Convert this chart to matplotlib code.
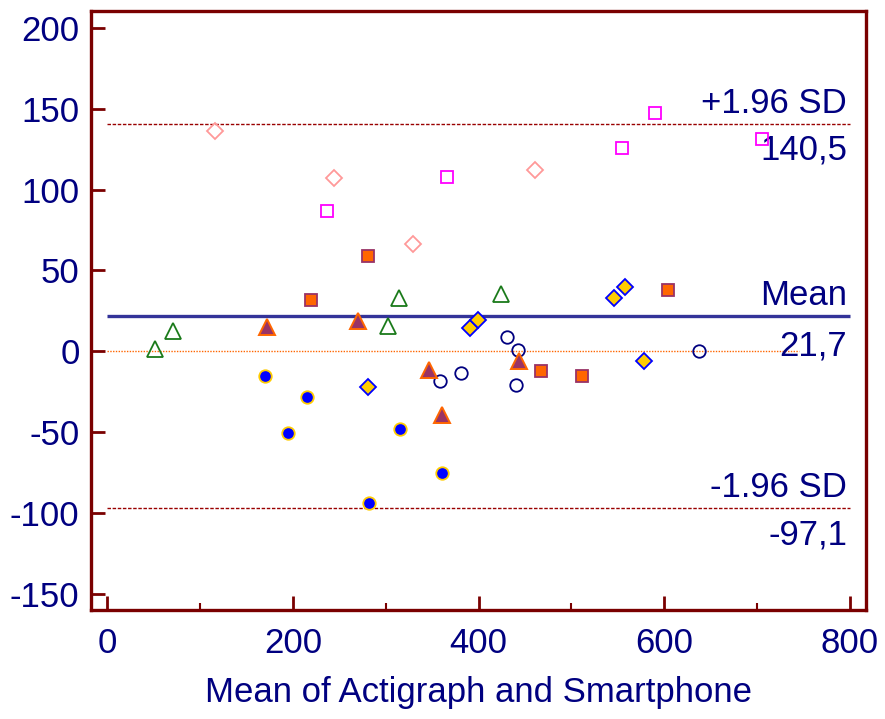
import numpy as np
import matplotlib
matplotlib.use("Agg")
import matplotlib.pyplot as plt
from matplotlib.ticker import MultipleLocator

plt.rcParams["font.family"] = ["Liberation Sans", "DejaVu Sans"]
plt.rcParams["axes.unicode_minus"] = False

# ── data (mean, difference) per group ──
blue_dot_x = [169.6, 214.5, 194.7, 315.0, 360.3, 282.3]
blue_dot_y = [-15.3, -28.5, -50.4, -48.1, -75.1, -93.9]

open_circ_x = [358.8, 381.4, 430.3, 442.2, 440.7, 637.8]
open_circ_y = [-18.4, -13.6, 8.9, 0.6, -20.9, 0.2]

green_tri_x = [51.8, 70.5, 302.1, 314.3, 423.8]
green_tri_y = [1.7, 12.4, 15.7, 33.2, 35.7]

purple_tri_x = [172.1, 270.1, 346.6, 360.3, 443.6]
purple_tri_y = [15.0, 18.8, -11.6, -39.6, -6.0]

yellow_dia_x = [280.9, 390.8, 399.0, 545.6, 557.7, 578.6]
yellow_dia_y = [-22.3, 14.7, 19.4, 33.0, 40.0, -6.0]

orange_sq_x = [219.8, 280.9, 467.3, 511.1, 603.7]
orange_sq_y = [31.6, 58.8, -12.2, -15.3, 37.8]

magenta_sq_x = [237.1, 365.7, 554.8, 590.4, 705.6]
magenta_sq_y = [86.9, 108.0, 125.9, 147.2, 131.3]

pink_dia_x = [115.4, 244.0, 329.7, 460.8]
pink_dia_y = [136.1, 107.1, 66.5, 111.9]

MEAN_DIFF = 21.7
UPPER_LOA = 140.5
LOWER_LOA = -97.1

NAVY = "#000080"
DARKRED = "#7a0000"

fig = plt.figure(figsize=(8.85, 7.19), dpi=100)
ax = fig.add_axes([0.1025, 0.1516, 0.8757, 0.8331])

# reference lines
ax.hlines(0, 0, 745, color="#ff6600", linewidth=1, linestyle=(0, (1, 1)), zorder=1)
ax.hlines(MEAN_DIFF, 0, 800, color="#333399", linewidth=2.4, zorder=2)
ax.hlines([UPPER_LOA, LOWER_LOA], 0, 800, color="#990000", linewidth=1,
          linestyle=(0, (2.5, 1.2)), zorder=1)

# points
kw = dict(linestyle="none", zorder=4)
ax.plot(blue_dot_x, blue_dot_y, marker="o", ms=9, mfc="#0000ff", mec="#ffcc00", mew=1.3, **kw)
ax.plot(open_circ_x, open_circ_y, marker="o", ms=9, mfc="none", mec=NAVY, mew=1.3, **kw)
ax.plot(green_tri_x, green_tri_y, marker="^", ms=12, mfc="none", mec="#1a7a1a", mew=1.3, **kw)
ax.plot(purple_tri_x, purple_tri_y, marker="^", ms=12, mfc="#993366", mec="#ff6600", mew=1.4, **kw)
ax.plot(yellow_dia_x, yellow_dia_y, marker="D", ms=8.5, mfc="#ffcc00", mec="#0000ff", mew=1.3, **kw)
ax.plot(orange_sq_x, orange_sq_y, marker="s", ms=9, mfc="#ff6600", mec="#993366", mew=1.3, **kw)
ax.plot(magenta_sq_x, magenta_sq_y, marker="s", ms=9, mfc="none", mec="#ff00ff", mew=1.3, **kw)
ax.plot(pink_dia_x, pink_dia_y, marker="D", ms=8.5, mfc="none", mec="#ff9999", mew=1.3, **kw)

# line labels
fs = 25
lab = dict(fontsize=fs, color=NAVY, ha="right", textcoords="offset points", zorder=3)
ax.annotate("+1.96 SD", (800, UPPER_LOA), xytext=(-2, 8), va="baseline", **lab)
ax.annotate("140,5", (800, UPPER_LOA), xytext=(-2, -7), va="top", **lab)
ax.annotate("Mean", (800, MEAN_DIFF), xytext=(-2, 8), va="baseline", **lab)
ax.annotate("21,7", (800, MEAN_DIFF), xytext=(-2, -9.5), va="top", **lab)
ax.annotate("-1.96 SD", (800, LOWER_LOA), xytext=(-2, 8.5), va="baseline", **lab)
ax.annotate("-97,1", (800, LOWER_LOA), xytext=(-2, -7), va="top", **lab)

ax.set_xlim(-18, 817)
ax.set_ylim(-160, 210.5)

ax.xaxis.set_major_locator(MultipleLocator(200))
ax.xaxis.set_minor_locator(MultipleLocator(100))
ax.yaxis.set_major_locator(MultipleLocator(50))

for sp in ax.spines.values():
    sp.set_color(DARKRED)
    sp.set_linewidth(2.4)

ax.tick_params(axis="both", which="major", direction="in", length=10, width=2,
               color=DARKRED, labelsize=fs, labelcolor=NAVY)
ax.tick_params(axis="y", pad=8)
ax.tick_params(axis="x", pad=12)
ax.tick_params(axis="x", which="minor", direction="in", length=5, width=1.5, color=DARKRED)

ax.set_xlabel("Mean of Actigraph and Smartphone", fontsize=fs, color=NAVY, labelpad=12)

fig.savefig("out.png", dpi=100)
